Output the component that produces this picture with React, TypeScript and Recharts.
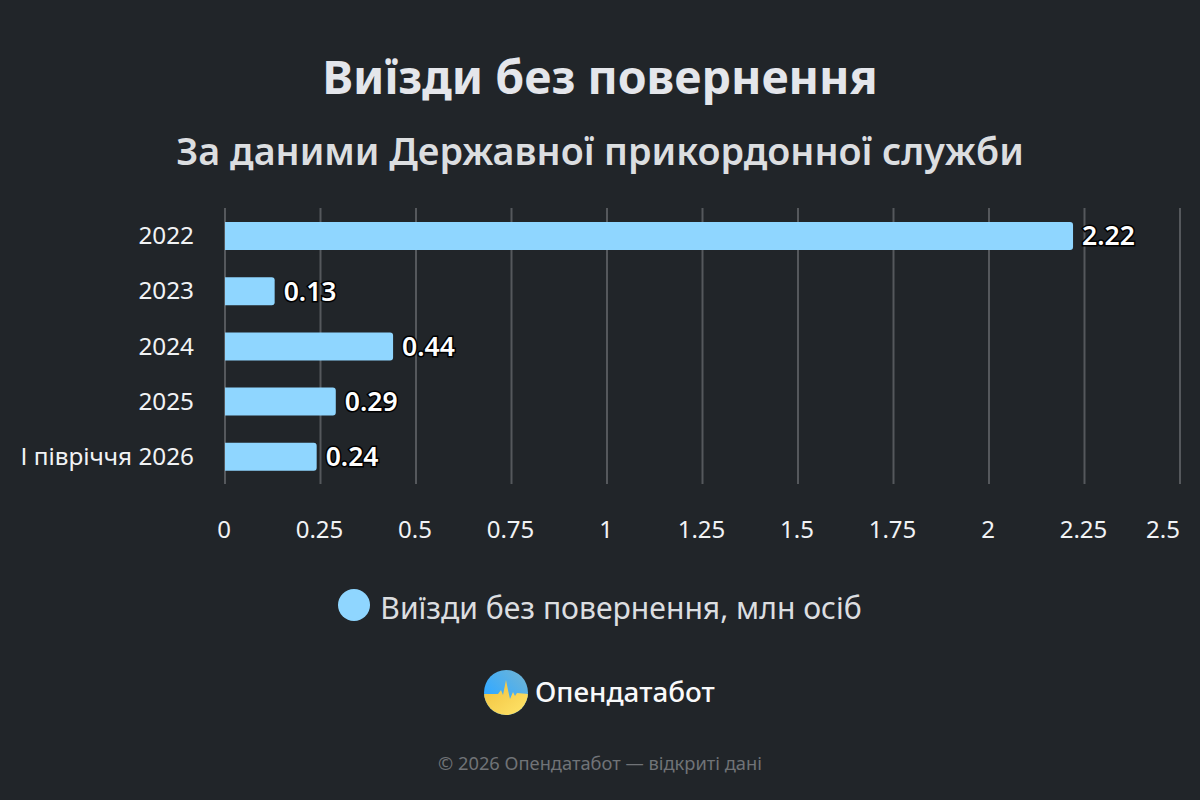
import React from 'react';
import { BarChart, Bar, XAxis, YAxis, CartesianGrid, Legend, LabelList } from 'recharts';

const categories = ['2022', '2023', '2024', '2025', 'І півріччя 2026'];
const departures = [2.22, 0.13, 0.44, 0.29, 0.24];
const xTicks = [0, 0.25, 0.5, 0.75, 1, 1.25, 1.5, 1.75, 2, 2.25, 2.5];
const seriesName = 'Виїзди без повернення, млн осіб';

const chartData = categories.map((name, i) => ({ name, value: departures[i] }));

const FONT = '"Noto Sans", "Open Sans", sans-serif';
const BG = '#212529';
const BAR = '#8fd6ff';

const XTick = ({ x, y, payload }: any) => {
    // the last label is pushed inside the chart edge
    const dx = payload.value === 2.5 ? -17 : -1;
    return (
        <text x={x + dx} y={y} textAnchor="middle" fontSize={24} fill="#f1f3f5" fontFamily={FONT}>
            {payload.value}
        </text>
    );
};

const LegendContent = () => (
    <div style={{ display: 'flex', justifyContent: 'center', alignItems: 'center', fontFamily: FONT, fontSize: 30.1, color: '#dcdee0' }}>
        <span style={{ width: 32, height: 32, borderRadius: '50%', background: BAR, marginRight: 10, marginTop: -5 }} />
        <span>{seriesName}</span>
    </div>
);

const Logo = () => (
    <div style={{ position: 'absolute', left: 484, top: 670, display: 'flex', alignItems: 'center' }}>
        <svg width={44} height={45} viewBox="0 0 44 45">
            <defs>
                <linearGradient id="logoBlue" x1="0.8" y1="0" x2="0.2" y2="0.6">
                    <stop offset="0%" stopColor="#6cb4d8" />
                    <stop offset="100%" stopColor="#35aaff" />
                </linearGradient>
                <linearGradient id="logoYellow" x1="0" y1="0" x2="1" y2="1">
                    <stop offset="0%" stopColor="#f0bf3c" />
                    <stop offset="100%" stopColor="#ffe56a" />
                </linearGradient>
                <clipPath id="logoClip">
                    <ellipse cx="22" cy="22.5" rx="22" ry="22.5" />
                </clipPath>
            </defs>
            <g clipPath="url(#logoClip)">
                <rect width={44} height={45} fill="url(#logoBlue)" />
                <path d="M0 24 L14 24 L17 20 L19 25 L20 20 L22 10 L24 20 L26 29 L29 22 L31 26 L33 23 L44 24 L44 45 L0 45 Z" fill="url(#logoYellow)" />
            </g>
        </svg>
        <span style={{ marginLeft: 7, marginTop: -3, fontFamily: FONT, fontSize: 27.8, fontWeight: 500, color: '#f8f9fa' }}>Опендатабот</span>
    </div>
);

export default function App() {
    return (
        <div style={{ position: 'fixed', left: 0, top: 0, width: 1200, height: 800, background: BG, overflow: 'hidden' }}>
            <div style={{ position: 'absolute', left: 0, width: 1200, top: 44, textAlign: 'center', fontFamily: FONT, fontSize: 46.5, fontWeight: 700, color: '#e4e6eb' }}>
                Виїзди без повернення
            </div>
            <div style={{ position: 'absolute', left: 0, width: 1200, top: 125, textAlign: 'center', fontFamily: FONT, fontSize: 37.7, fontWeight: 600, color: '#dcdee0' }}>
                За даними Державної прикордонної служби
            </div>
            <BarChart
                width={1200}
                height={800}
                data={chartData}
                layout="vertical"
                barSize={28}
                margin={{ top: 208, right: 20, bottom: 0, left: 0 }}
                style={{ position: 'absolute', left: 0, top: 0 }}
            >
                <CartesianGrid horizontal={false} stroke="#55585c" strokeWidth={2} />
                <XAxis
                    type="number"
                    domain={[0, 2.5]}
                    ticks={xTicks}
                    axisLine={false}
                    tickLine={false}
                    interval={0}
                    height={275}
                    tick={<XTick />}
                    tickMargin={48}
                />
                <YAxis
                    type="category"
                    dataKey="name"
                    width={225}
                    axisLine={false}
                    tickLine={false}
                    tickMargin={25}
                    tick={{ fontSize: 24.3, fill: '#f1f3f5', fontFamily: FONT }}
                />
                <Legend
                    content={<LegendContent />}
                    wrapperStyle={{ position: 'absolute', left: 0, width: 1200, top: 587, bottom: 'auto' }}
                />
                <Bar dataKey="value" name={seriesName} fill={BAR} radius={[0, 3, 3, 0]} isAnimationActive={false}>
                    <LabelList
                        dataKey="value"
                        position="right"
                        offset={9}
                        fill="#ffffff"
                        stroke="#000000"
                        strokeWidth={3}
                        fontSize={26.5}
                        fontWeight={600}
                        fontFamily={FONT}
                        style={{ paintOrder: 'stroke' }}
                    />
                </Bar>
            </BarChart>
            <Logo />
            <div style={{ position: 'absolute', left: 0, width: 1200, top: 750, textAlign: 'center', fontFamily: FONT, fontSize: 18.3, color: '#707377' }}>
                © 2026 Опендатабот — відкриті дані
            </div>
        </div>
    );
}
